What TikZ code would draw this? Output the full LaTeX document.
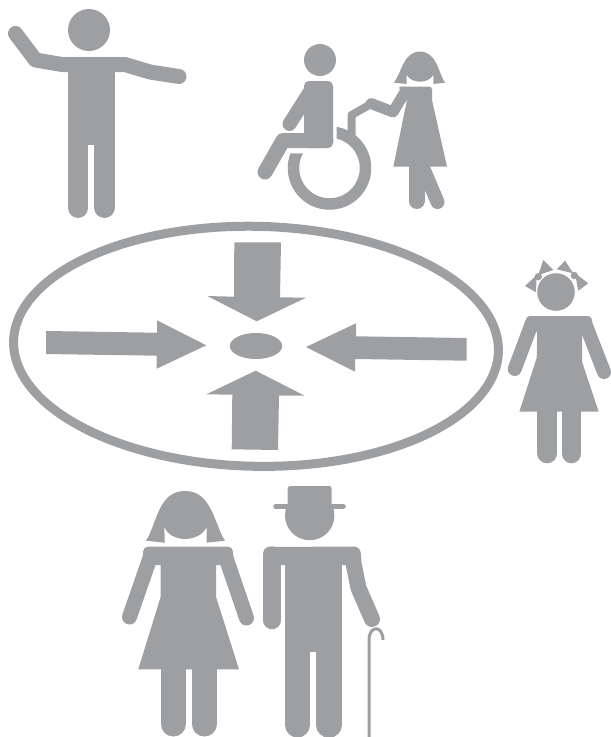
\documentclass[tikz,border=0pt]{standalone}
\definecolor{figgrey}{HTML}{9D9FA2}
\tikzset{
  solid part/.style={fill=figgrey,draw=none},
  limb/.style={draw=figgrey,line cap=round,line join=round,line width=#1},
  joint/.style={draw=figgrey,line join=round,line width=#1},
}
\begin{document}
\begin{tikzpicture}[x=1pt,y=-1pt]
\useasboundingbox (0,0) rectangle (611,737);
% ---- man waving
\fill[solid part] (89,30) circle (21);
\draw[limb=15] (15.5,33.5) -- (35.5,60) -- (62,64.5) -- (125,64.5) -- (150,72) -- (179,76.5);
\fill[solid part] (68,60) rectangle (115,145);
\draw[limb=20.5] (78.2,140) -- (78.2,207.7);
\draw[limb=21] (104.5,140) -- (104.5,207.5);
% ---- wheelchair
\fill[solid part] (320,60) circle (16);
\fill[solid part,rounded corners=5pt] (304,81) -- (333,81) -- (333,148) -- (304,148) -- cycle;
\draw[limb=14] (311,90) -- (289.5,124);
\draw[limb=15] (326,140.5) -- (283,140.5) -- (265,172);
\begin{scope}
  \clip (336.7,100) rectangle (380,215) (280,153.3) rectangle (380,215);
  \draw[draw=figgrey,line width=11.5pt] (329.5,168) circle (36);
\end{scope}
\draw[joint=8] (351.7,136) -- (351.7,115) -- (371,104);
\draw[limb=11] (371,103.5) -- (393,112) -- (405,92);
% ---- woman behind the wheelchair
\fill[solid part] (394,82.7) .. controls (402,72) and (403,52) .. (420,51.5) .. controls (437,52) and (438,72) .. (445,82.7) -- (433.3,84) -- (433.3,75) .. controls (428,84) and (412,84) .. (406.7,75) -- (406.7,84) -- cycle;
\fill[solid part,rounded corners=3pt] (398,86.5) -- (432,86.5) -- (432,103) -- (408,103) -- cycle;
\fill[solid part] (407,100) -- (432,100) -- (447,166.7) -- (393.3,166.7) -- cycle;
\draw[limb=16] (416.5,160) -- (416.5,201);
\draw[limb=14] (421,163) -- (437.5,202);
% ---- girl
\fill[solid part] (525,286) -- (536,292.3) -- (536.7,275) -- cycle;
\fill[solid part] (543.3,260) -- (553.3,270) -- (538.3,275) -- cycle;
\fill[solid part] (588.3,283.3) -- (578.3,290.7) -- (575,273.3) -- cycle;
\fill[solid part] (565,260.7) -- (556.7,269.3) -- (573.3,273.3) -- cycle;
\fill[solid part] (538.3,276.7) circle (3.7);
\fill[solid part] (574.3,275.5) circle (3.7);
\fill[white] (556,292) circle (19.8);
\fill[solid part] (556,292) circle (18.8);
\fill[solid part,rounded corners=4pt] (526,316) -- (592,316) -- (592,332) -- (526,332) -- cycle;
\draw[limb=14] (532,323) -- (514.7,369);
\draw[limb=14] (585,323) -- (604,372);
\fill[solid part] (537.3,325) -- (582,325) -- (582,361.7) -- (598.7,411.7) -- (519.3,411.7) -- (536.7,358) -- cycle;
\draw[limb=20] (547.3,405) -- (547.3,453.3);
\draw[limb=19.4] (571.3,405) -- (571.3,453.6);
% ---- elderly woman
\fill[solid part] (146,540.7) .. controls (157,524) and (158,491) .. (185,491) .. controls (212,491) and (214,524) .. (225,540.7) -- (206.7,542.7) -- (206.7,526.7) .. controls (200,543) and (170,543) .. (164.3,526.7) -- (164.8,542.7) -- cycle;
\fill[solid part,rounded corners=5pt] (143,546.7) -- (233,546.7) -- (233,565) -- (143,565) -- cycle;
\draw[limb=15] (151,555) -- (129.5,617);
\draw[limb=15] (225,555) -- (246.5,618);
\fill[solid part] (160.7,560) -- (216,560) -- (216,596.7) -- (239,669.3) -- (138.3,669.3) -- (160.7,596.7) -- cycle;
\draw[limb=25] (173.2,660) -- (173.2,724);
\draw[limb=25] (204.2,660) -- (204.2,724);
% ---- elderly man
\fill[solid part,rounded corners=2.5pt] (287.7,486) -- (331.7,486) -- (331.7,506) -- (287.7,506) -- cycle;
\draw[limb=4.5] (275.5,506.3) -- (343.5,506.3);
\fill[solid part] (309.7,515.5) circle (24.7);
\fill[solid part,rounded corners=6pt] (263.3,547) -- (360,546.5) -- (362,565) -- (263.3,565) -- cycle;
\draw[limb=17.5] (272,555) -- (272,620.5);
\fill[solid part] (285,560) -- (341.7,560) -- (341.7,660) -- (285,660) -- cycle;
\draw[limb=25] (297.5,650) -- (297.5,725);
\draw[limb=25.6] (328.9,650) -- (328.9,725);
\fill[white] (310,651.7) rectangle (316,662);
\draw[limb=16] (352,556) -- (358.5,588) -- (372,619);
\draw[draw=white,line width=5pt] (369,737) -- (369,640) .. controls (369,625) and (383,625) .. (383,640);
\draw[draw=figgrey,line width=3pt] (369,737) -- (369,640) .. controls (369,625) and (383,625) .. (383,640);
% ---- ellipse and arrows
\draw[draw=figgrey,line width=9pt] plot[smooth cycle,samples=90,domain=0:356] ({256+242.5*cos(\x)*cos(1.2)-120*sin(\x)*sin(1.2)},{346.3+242.5*cos(\x)*sin(1.2)+120*sin(\x)*cos(1.2)});
\fill[solid part] (256,346) ellipse [x radius=26.2, y radius=13];
\fill[solid part] (234.3,242.3) -- (281,242.3) -- (280,297.3) -- (306,297.7) -- (256.7,321.3) -- (207.3,296) -- (234,296.7) -- cycle;
\fill[solid part] (46,331) -- (157,332.7) -- (157,320.3) -- (206.3,345.3) -- (156.7,368.7) -- (156.7,355.7) -- (46,354) -- cycle;
\fill[solid part] (466.7,338) -- (356,336.3) -- (356,323.3) -- (306,347) -- (355,371.7) -- (355,359) -- (466.7,360.7) -- cycle;
\fill[solid part] (231.7,449.3) -- (278,450) -- (279,395.7) -- (304.7,395.7) -- (255.7,370.7) -- (206.3,394.3) -- (232.3,394.7) -- cycle;
\end{tikzpicture}
\end{document}
